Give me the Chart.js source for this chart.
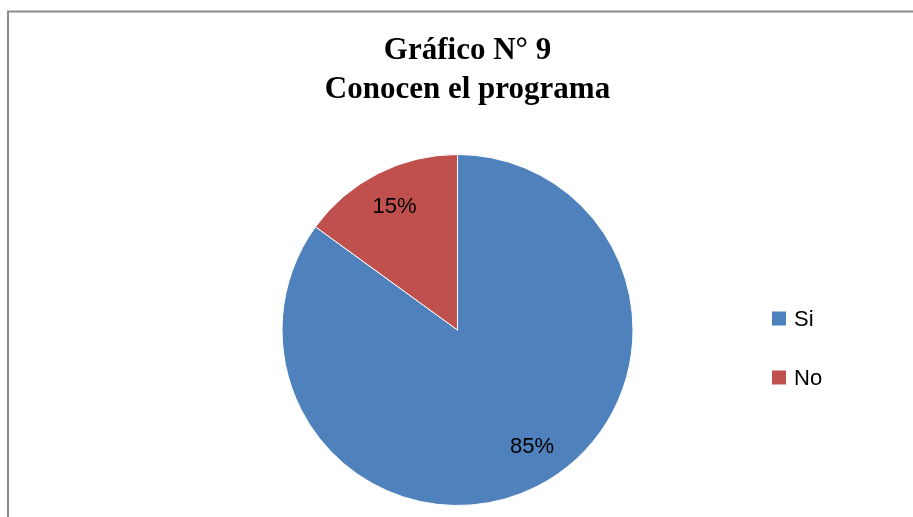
<!DOCTYPE html>
<html>
<head>
<meta charset="utf-8">
<script src="https://cdn.jsdelivr.net/npm/chart.js@4/dist/chart.umd.min.js"></script>
<style>
  html, body { margin: 0; padding: 0; background: #ffffff; }
  #wrap { position: relative; width: 913px; height: 517px; }
</style>
</head>
<body>
<div id="wrap"><canvas id="c" width="913" height="517"></canvas></div>
<script>
const titleLines = ['Gráfico N° 9', 'Conocen el programa'];
const categories = ['Si', 'No'];
const values = [85, 15];
const pctLabels = ['85%', '15%'];
const colors = ['#4F81BD', '#C0504D'];

const framePlugin = {
  id: 'frame',
  beforeDraw(chart) {
    const ctx = chart.ctx;
    ctx.save();
    ctx.fillStyle = '#ffffff';
    ctx.fillRect(0, 0, chart.width, chart.height);
    ctx.strokeStyle = '#8a8a8a';
    ctx.lineWidth = 2;
    ctx.beginPath();
    ctx.moveTo(8, chart.height + 2);
    ctx.lineTo(8, 11.5);
    ctx.lineTo(chart.width + 2, 11.5);
    ctx.stroke();
    ctx.restore();
  }
};

const decorPlugin = {
  id: 'decor',
  afterDraw(chart) {
    const ctx = chart.ctx;
    ctx.save();
    // title
    ctx.fillStyle = '#000000';
    ctx.font = 'bold 31px "Liberation Serif", "Times New Roman", serif';
    ctx.textAlign = 'center';
    ctx.textBaseline = 'alphabetic';
    ctx.fillText(titleLines[0], 467.5, 59);
    ctx.fillText(titleLines[1], 467.5, 98);

    // percentage labels (placed like Excel's best-fit)
    const meta = chart.getDatasetMeta(0);
    const dist = [0.79, 0.79];
    const angShift = [-5.5 * Math.PI / 180, 0];
    ctx.font = '22px "Liberation Sans", Arial, sans-serif';
    ctx.textBaseline = 'middle';
    meta.data.forEach((arc, i) => {
      const p = arc.getProps(['x', 'y', 'startAngle', 'endAngle', 'outerRadius'], true);
      const mid = (p.startAngle + p.endAngle) / 2 + angShift[i];
      const d = p.outerRadius * dist[i];
      ctx.fillText(pctLabels[i], p.x + Math.cos(mid) * d, p.y + Math.sin(mid) * d);
    });

    // legend
    ctx.textAlign = 'left';
    ctx.font = '22px "Liberation Sans", Arial, sans-serif';
    const ys = [318.5, 377.5];
    categories.forEach((c, i) => {
      ctx.fillStyle = colors[i];
      ctx.fillRect(772, ys[i] - 7, 14, 14);
      ctx.fillStyle = '#000000';
      ctx.fillText(c, 794, ys[i] + 1);
    });
    ctx.restore();
  }
};

new Chart(document.getElementById('c'), {
  type: 'pie',
  data: {
    labels: categories,
    datasets: [{
      data: values,
      backgroundColor: colors,
      borderColor: '#ffffff',
      borderWidth: 1
    }]
  },
  options: {
    responsive: false,
    animation: false,
    layout: { padding: { left: 281.5, right: 279.5, top: 154, bottom: 11 } },
    plugins: {
      legend: { display: false },
      title: { display: false },
      tooltip: { enabled: false }
    }
  },
  plugins: [framePlugin, decorPlugin]
});
</script>
</body>
</html>
